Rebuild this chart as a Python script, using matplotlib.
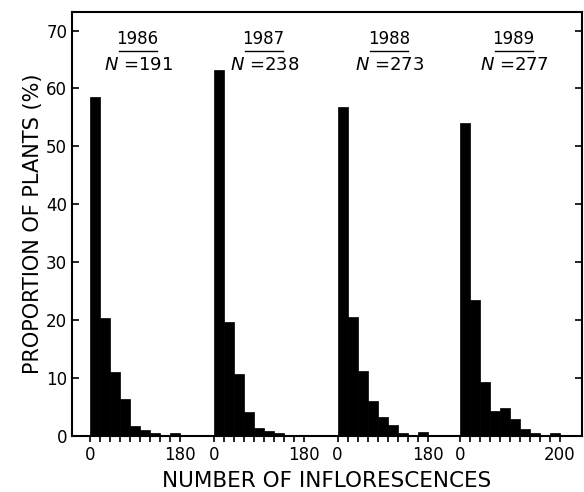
import matplotlib
matplotlib.use("Agg")
import matplotlib.pyplot as plt
import numpy as np

# proportion of plants (%) in 20-inflorescence bins
years = ["1986", "1987", "1988", "1989"]
n_plants = [191, 238, 273, 277]
props_1986 = [58.6, 20.4, 11.0, 6.3, 1.6, 1.0, 0.5, 0.0, 0.5]
props_1987 = [63.2, 19.7, 10.6, 4.1, 1.3, 0.8, 0.4, 0.0, 0.0]
props_1988 = [56.8, 20.5, 11.1, 6.0, 3.3, 1.8, 0.4, 0.0, 0.7]
props_1989 = [54.0, 23.5, 9.2, 4.3, 4.7, 2.8, 1.1, 0.4, 0.0, 0.5]
panel_max = [180, 180, 180, 200]

bin_width = 20
offsets = [0, 248, 495, 740]

plt.rcParams['font.family'] = 'DejaVu Sans'

fig = plt.figure(figsize=(5.84, 4.92), dpi=100)
ax = fig.add_axes([72 / 584, 1 - 435.7 / 492, 510 / 584, 423.7 / 492])

major_pos, major_lab, minor_pos = [], [], []
for i, props in enumerate([props_1986, props_1987, props_1988, props_1989]):
    off = offsets[i]
    edges = off + np.arange(len(props)) * bin_width
    ax.bar(edges, props, width=bin_width, align='edge', color='black',
           edgecolor='black', linewidth=0.5)

    major_pos += [off, off + panel_max[i]]
    major_lab += ["0", str(panel_max[i])]
    minor_pos += list(off + np.arange(0, panel_max[i] + 1, bin_width))

    # year label with underline, sample size below
    xc = off + 95 + 4 * i
    ax.text(xc, 66.9, years[i], ha='center', va='bottom', fontsize=12)
    ax.plot([xc - 38, xc + 38], [66.4, 66.4], color='black', lw=1.0)
    ax.text(xc + 2, 64.0, r"$N$ =" + str(n_plants[i]), ha='center',
            va='center', fontsize=13)

ax.set_xlim(-36, 984)
ax.set_ylim(0, 73.2)

ax.set_xticks(major_pos)
ax.set_xticklabels(major_lab, fontsize=12)
ax.set_xticks(minor_pos, minor=True)
ax.tick_params(axis='x', which='both', direction='out', length=4, width=1.2)
ax.set_yticks(np.arange(0, 71, 10))
ax.tick_params(axis='y', direction='in', length=5, width=1.2, right=True,
               labelsize=12)

for s in ax.spines.values():
    s.set_linewidth(1.5)

ax.set_ylabel("PROPORTION OF PLANTS (%)", fontsize=15, labelpad=2)
ax.set_xlabel("NUMBER OF INFLORESCENCES", fontsize=15.5, labelpad=5)

fig.savefig("out.png", dpi=100)
